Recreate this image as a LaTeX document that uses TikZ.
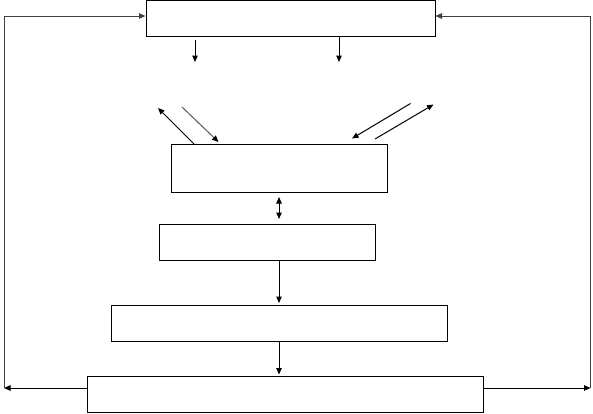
\documentclass[tikz,border=0pt]{standalone}
\usepackage{tikz}
\usetikzlibrary{arrows.meta, positioning, calc}
\tikzset{
    stageBox/.style={rectangle, draw=black, line width=1pt, fill=white, inner sep=0pt},
    flowLine/.style={line width=1pt, draw=black},
    fbLine/.style={line width=1pt, draw=black!75}
}

\begin{document}
\begin{tikzpicture}[x=1pt, y=-1pt, >={Triangle[length=6.5pt, width=5.5pt]}]

        % --- Frame ---
        \useasboundingbox (0,0) rectangle (593,413);

        % --- Boxes ---
        \node[stageBox, minimum width=289pt, minimum height=36pt] (topBox)  at (290.5,18.5) {};
        \node[stageBox, minimum width=216pt, minimum height=48pt] (midBox)  at (279.5,168) {};
        \node[stageBox, minimum width=216pt, minimum height=36pt] (lowBox)  at (267,242) {};
        \node[stageBox, minimum width=336pt, minimum height=36pt] (wideBox) at (279,323) {};
        \node[stageBox, minimum width=396pt, minimum height=36pt] (baseBox) at (285,394) {};

        % --- Coordinates ---
        \coordinate (spine) at (279,0);
        \coordinate (tapA) at (195,62);
        \coordinate (tapB) at (339,62);
        \coordinate (dA1) at (158,108);
        \coordinate (dA2) at (194,144);
        \coordinate (dB1) at (182,107);
        \coordinate (dB2) at (218.5,142);
        \coordinate (dC1) at (410.5,103.5);
        \coordinate (dC2) at (352,138.5);
        \coordinate (dD1) at (375,139);
        \coordinate (dD2) at (433.5,104.5);
        \coordinate (fbL) at (4,388);
        \coordinate (fbLtop) at (4,16);
        \coordinate (fbR) at (590.5,388);
        \coordinate (fbRtop) at (590.5,16);

        % --- Outputs of top box ---
        \draw[flowLine, ->, shorten <=3pt] (topBox.south -| tapA) -- (tapA);
        \draw[flowLine, ->] (topBox.south -| tapB) -- (tapB);

        % --- Diagonal exchanges ---
        \draw[flowLine, ->] (dA2) -- (dA1);
        \draw[flowLine, -{Triangle[length=6.5pt, width=5.5pt, color=black]}, draw=black!65] (dB1) -- (dB2);
        \draw[flowLine, ->] (dC1) -- (dC2);
        \draw[flowLine, ->] (dD1) -- (dD2);

        % --- Main chain ---
        \draw[flowLine, <->, shorten <=4.5pt, shorten >=4.5pt] (midBox.south -| spine) -- (lowBox.north -| spine);
        \draw[flowLine, ->, shorten >=1.5pt] (lowBox.south -| spine) -- (wideBox.north -| spine);
        \draw[flowLine, ->, shorten >=1pt] (wideBox.south -| spine) -- (baseBox.north -| spine);

        % --- Feedback loops ---
        \draw[flowLine, ->] (baseBox.west |- fbL) -- (fbL);
        \draw[flowLine, ->] (baseBox.east |- fbR) -- (fbR);
        \draw[fbLine, ->] (fbL) -- (fbLtop) -- (topBox.west |- fbLtop);
        \draw[fbLine, ->] (fbR) -- (fbRtop) -- (topBox.east |- fbRtop);

\end{tikzpicture}
\end{document}
